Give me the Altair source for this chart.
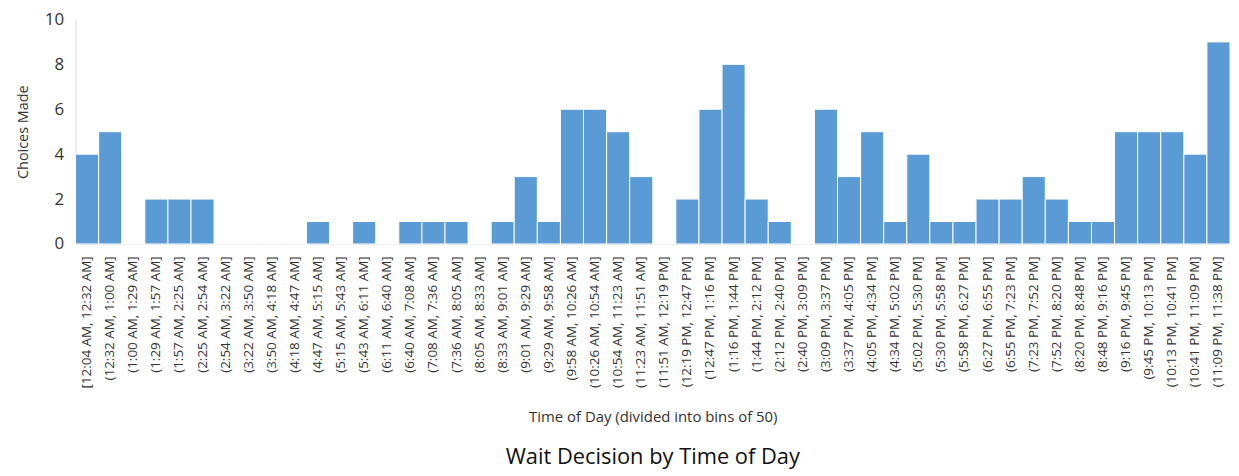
import altair as alt
import pandas as pd

bins = [
    "[12:04 AM, 12:32 AM]", "(12:32 AM, 1:00 AM]", "(1:00 AM, 1:29 AM]", "(1:29 AM, 1:57 AM]",
    "(1:57 AM, 2:25 AM]", "(2:25 AM, 2:54 AM]", "(2:54 AM, 3:22 AM]", "(3:22 AM, 3:50 AM]",
    "(3:50 AM, 4:18 AM]", "(4:18 AM, 4:47 AM]", "(4:47 AM, 5:15 AM]", "(5:15 AM, 5:43 AM]",
    "(5:43 AM, 6:11 AM]", "(6:11 AM, 6:40 AM]", "(6:40 AM, 7:08 AM]", "(7:08 AM, 7:36 AM]",
    "(7:36 AM, 8:05 AM]", "(8:05 AM, 8:33 AM]", "(8:33 AM, 9:01 AM]", "(9:01 AM, 9:29 AM]",
    "(9:29 AM, 9:58 AM]", "(9:58 AM, 10:26 AM]", "(10:26 AM, 10:54 AM]", "(10:54 AM, 11:23 AM]",
    "(11:23 AM, 11:51 AM]", "(11:51 AM, 12:19 PM]", "(12:19 PM, 12:47 PM]", "(12:47 PM, 1:16 PM]",
    "(1:16 PM, 1:44 PM]", "(1:44 PM, 2:12 PM]", "(2:12 PM, 2:40 PM]", "(2:40 PM, 3:09 PM]",
    "(3:09 PM, 3:37 PM]", "(3:37 PM, 4:05 PM]", "(4:05 PM, 4:34 PM]", "(4:34 PM, 5:02 PM]",
    "(5:02 PM, 5:30 PM]", "(5:30 PM, 5:58 PM]", "(5:58 PM, 6:27 PM]", "(6:27 PM, 6:55 PM]",
    "(6:55 PM, 7:23 PM]", "(7:23 PM, 7:52 PM]", "(7:52 PM, 8:20 PM]", "(8:20 PM, 8:48 PM]",
    "(8:48 PM, 9:16 PM]", "(9:16 PM, 9:45 PM]", "(9:45 PM, 10:13 PM]", "(10:13 PM, 10:41 PM]",
    "(10:41 PM, 11:09 PM]", "(11:09 PM, 11:38 PM]",
]
counts = [
    4, 5, 0, 2, 2, 2, 0, 0, 0, 0,
    1, 0, 1, 0, 1, 1, 1, 0, 1, 3,
    1, 6, 6, 5, 3, 0, 2, 6, 8, 2,
    1, 0, 6, 3, 5, 1, 4, 1, 1, 2,
    2, 3, 2, 1, 1, 5, 5, 5, 4, 9,
]

df = pd.DataFrame({"bin": bins, "count": counts})

FONT = "Open Sans"

chart = (
    alt.Chart(df)
    .mark_bar(color="#5B9BD5", stroke="white", strokeWidth=1)
    .encode(
        x=alt.X(
            "bin:N",
            sort=bins,
            scale=alt.Scale(paddingInner=0, paddingOuter=0),
            axis=alt.Axis(
                title="Time of Day (divided into bins of 50)",
                labelAngle=-90,
                labelFontSize=13.5,
                labelColor="#333333",
                labelPadding=12,
                ticks=False,
                domainColor="#D9D9D9",
                titleFontSize=15,
                titleFontWeight="normal",
                titleColor="#333333",
                titlePadding=22,
                labelOverlap=False,
            ),
        ),
        y=alt.Y(
            "count:Q",
            scale=alt.Scale(domain=[0, 10]),
            axis=alt.Axis(
                title="Choices Made",
                values=[0, 2, 4, 6, 8, 10],
                grid=False,
                ticks=False,
                domainColor="#D9D9D9",
                labelFontSize=17,
                labelColor="#333333",
                labelPadding=12,
                titleFontSize=14.5,
                titleFontWeight="normal",
                titleColor="#333333",
                titlePadding=14,
            ),
        ),
    )
    .properties(
        width=1162,
        height=226,
        title=alt.TitleParams(
            "Wait Decision by Time of Day",
            orient="bottom",
            fontSize=22,
            fontWeight="normal",
            color="#111111",
            offset=22,
            font=FONT,
        ),
        padding={"left": 7, "top": 1, "right": 0, "bottom": 0},
    )
    .configure(font=FONT)
    .configure_view(stroke=None)
)

chart.save("out.html", embed_options={"renderer": "svg", "actions": False})
